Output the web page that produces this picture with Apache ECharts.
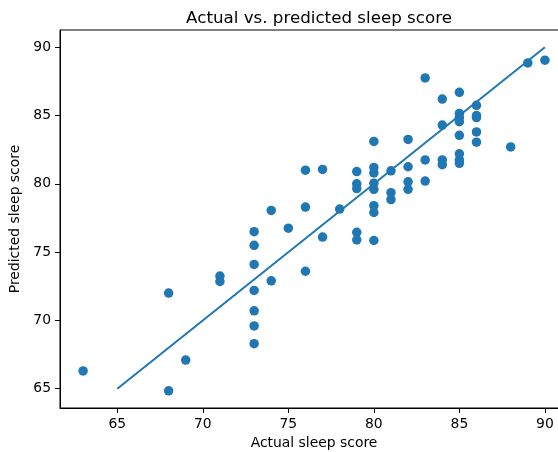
<!DOCTYPE html>
<html>
<head>
<meta charset="utf-8">
<script src="https://cdn.jsdelivr.net/npm/echarts@6/dist/echarts.min.js"></script>
<style>
html,body{margin:0;padding:0;background:#fff;}
#chart{width:558px;height:452px;}
</style>
</head>
<body>
<div id="chart"></div>
<script>
const actual = [63,68,68,69,71,71,73,73,73,73,73,73,73,74,74,75,76,76,76,77,77,78,79,79,79,79,79,80,80,80,80,80,80,80,80,81,81,81,82,82,82,82,83,83,83,84,84,84,84,85,85,85,85,85,85,85,85,86,86,86,86,86,88,89,90];
const predicted = [66.3,72.0,64.85,67.1,73.25,72.85,76.5,75.5,74.1,72.2,70.7,69.6,68.3,78.05,72.9,76.75,81.0,78.3,73.6,81.05,76.1,78.15,80.9,80.0,79.65,76.45,75.9,83.1,81.2,80.8,80.05,79.6,78.4,77.9,75.85,80.95,79.35,78.85,83.25,81.25,80.15,79.6,87.75,81.75,80.2,86.2,84.3,81.75,81.4,86.7,85.15,84.85,84.55,83.55,82.2,81.75,81.5,85.75,85.0,84.85,83.8,83.05,82.7,88.85,89.05];
const lineX = [65, 90];
const lineY = [65, 90];
const xTicks = [65,70,75,80,85,90];
const yTicks = [65,70,75,80,85,90];
const title = 'Actual vs. predicted sleep score';
const xName = 'Actual sleep score';
const yName = 'Predicted sleep score';

const font = 'DejaVu Sans';
const chart = echarts.init(document.getElementById('chart'), null, {renderer:'canvas'});
chart.setOption({
  animation: false,
  title: {text: title, left: 314, top: 5, textAlign: 'center',
    textStyle: {fontFamily: font, fontSize: 16.7, fontWeight: 'normal', color: '#000'}},
  grid: {left: 60, top: 30, width: 508, height: 378, outerBoundsMode: 'none', containLabel: false,
    show: true, borderColor: '#000', borderWidth: 1, backgroundColor: 'transparent'},
  xAxis: {
    type: 'value', min: 61.65, max: 91.35,
    name: xName, nameLocation: 'middle', nameGap: 28,
    nameTextStyle: {fontFamily: font, fontSize: 13.9, color: '#000', verticalAlign: 'top'},
    axisLine: {show: true, onZero: false, lineStyle: {color: '#000', width: 1}},
    axisTick: {show: true, length: 5, lineStyle: {color: '#000', width: 1}, customValues: xTicks},
    axisLabel: {fontFamily: font, fontSize: 13.9, color: '#000', margin: 9, customValues: xTicks},
    splitLine: {show: false}
  },
  yAxis: {
    type: 'value', min: 63.59, max: 91.26,
    name: yName, nameLocation: 'middle', nameGap: 31, nameRotate: 90,
    nameTextStyle: {fontFamily: font, fontSize: 13.9, color: '#000'},
    axisLine: {show: true, onZero: false, lineStyle: {color: '#000', width: 1}},
    axisTick: {show: true, length: 5, lineStyle: {color: '#000', width: 1}, customValues: yTicks},
    axisLabel: {fontFamily: font, fontSize: 13.9, color: '#000', margin: 9, customValues: yTicks},
    splitLine: {show: false}
  },
  series: [
    {type: 'scatter', data: actual.map((x, i) => [x, predicted[i]]), symbolSize: 9.5,
     itemStyle: {color: '#1f77b4', opacity: 1}, z: 2},
    {type: 'line', data: lineX.map((x, i) => [x, lineY[i]]), showSymbol: false, symbol: 'none',
     lineStyle: {color: '#1f77b4', width: 2}, z: 3}
  ]
});
</script>
</body>
</html>
